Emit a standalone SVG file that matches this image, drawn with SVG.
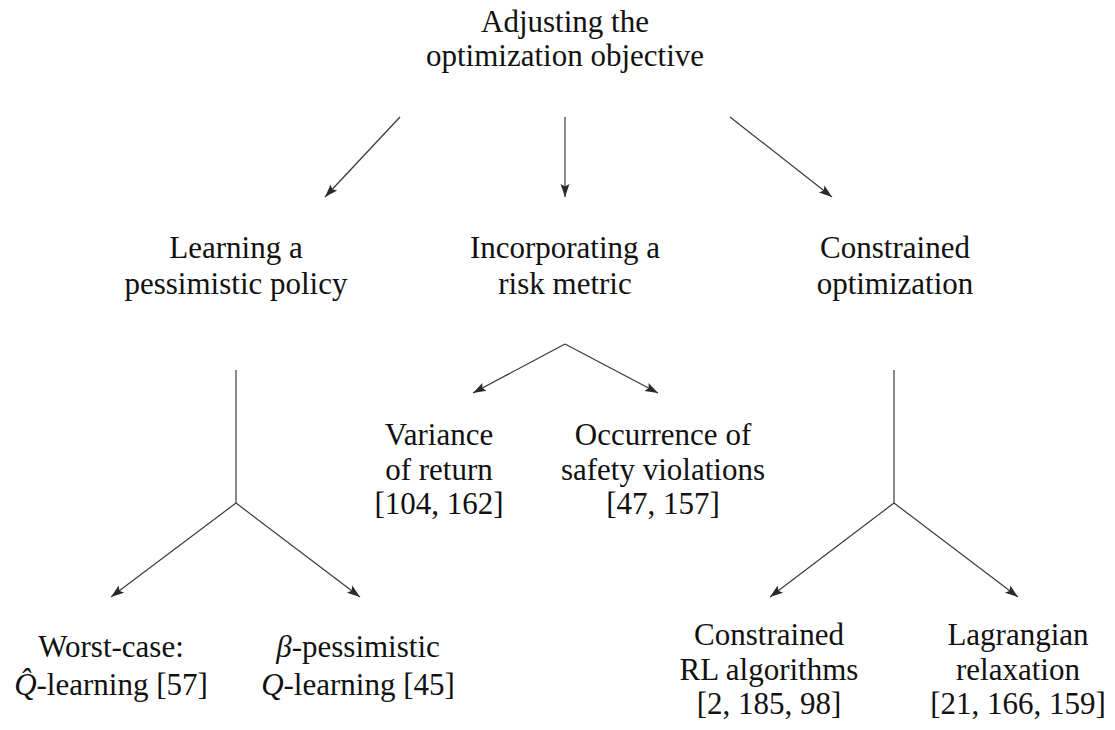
<svg xmlns="http://www.w3.org/2000/svg" width="1115" height="730" viewBox="0 0 1115 730">
<style>
text{font-family:"Liberation Serif","Times New Roman",serif;font-size:31px;fill:#111;text-anchor:middle}
.m{font-style:italic}
.c{stroke:#3a3a3a;stroke-width:1.2;fill:none}
.a{marker-end:url(#ah)}
</style>
<defs>
<marker id="ah" markerUnits="userSpaceOnUse" markerWidth="14" markerHeight="12" viewBox="0 0 14 12" refX="13" refY="6" orient="auto">
<path d="M0,1.5 L13,6 L0,10.5 L2.5,6 z" fill="#2a2a2a"/>
</marker>
</defs>
<rect width="1115" height="730" fill="#fff"/>
<g id="connectors">
<line class="c a" x1="400" y1="117" x2="325" y2="197"/>
<line class="c a" x1="565" y1="117" x2="565" y2="197"/>
<line class="c a" x1="730" y1="117" x2="832" y2="197"/>
<line class="c" x1="236" y1="370" x2="236" y2="503"/>
<line class="c a" x1="236" y1="503" x2="111" y2="597"/>
<line class="c a" x1="236" y1="503" x2="360" y2="597"/>
<line class="c a" x1="565" y1="344" x2="473" y2="393"/>
<line class="c a" x1="565" y1="344" x2="658" y2="393"/>
<line class="c" x1="894" y1="370" x2="894" y2="503"/>
<line class="c a" x1="894" y1="503" x2="770" y2="597"/>
<line class="c a" x1="894" y1="503" x2="1018" y2="597"/>
</g>
<g id="root">
<text x="565" y="32">Adjusting the</text>
<text x="565" y="66">optimization objective</text>
</g>
<g id="pessimistic">
<text x="236" y="258">Learning a</text>
<text x="236" y="294">pessimistic policy</text>
</g>
<g id="risk">
<text x="565" y="258">Incorporating a</text>
<text x="565" y="294">risk metric</text>
</g>
<g id="constrained">
<text x="895" y="258">Constrained</text>
<text x="895" y="294">optimization</text>
</g>
<g id="variance">
<text x="439" y="445">Variance</text>
<text x="439" y="480">of return</text>
<text x="439" y="514">[104, 162]</text>
</g>
<g id="occurrence">
<text x="663" y="445">Occurrence of</text>
<text x="663" y="480">safety violations</text>
<text x="663" y="514">[47, 157]</text>
</g>
<g id="worstcase">
<text x="111" y="657">Worst-case:</text>
<text x="111" y="695"><tspan class="m">Q&#x302;</tspan>-learning [57]</text>
</g>
<g id="betapess">
<text x="358" y="657"><tspan class="m">β</tspan>-pessimistic</text>
<text x="358" y="695"><tspan class="m">Q</tspan>-learning [45]</text>
</g>
<g id="constrainedrl">
<text x="769" y="645">Constrained</text>
<text x="769" y="680">RL algorithms</text>
<text x="769" y="714">[2, 185, 98]</text>
</g>
<g id="lagrangian">
<text x="1018" y="645">Lagrangian</text>
<text x="1018" y="680">relaxation</text>
<text x="1018" y="714">[21, 166, 159]</text>
</g>
</svg>
